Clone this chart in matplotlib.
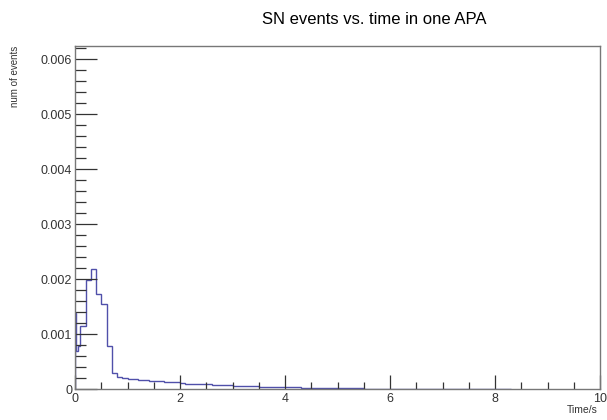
import numpy as np
import matplotlib.pyplot as plt
from matplotlib.ticker import MultipleLocator, FixedFormatter, FixedLocator

# bin edges (s) and contents of the histogram
head_edges = [0.0, 0.02, 0.05, 0.1, 0.2, 0.3, 0.4, 0.5, 0.6, 0.7]
head_vals = [0.00138, 0.00070, 0.00079, 0.00114, 0.00198, 0.00219, 0.00172, 0.00154, 0.00078]

tail_vals = [
    0.00029, 0.00022, 0.00020, 0.00019, 0.00018, 0.00017, 0.00016, 0.00015,   # 0.7 - 1.5
    0.00014, 0.00014, 0.00013, 0.00012, 0.00012, 0.00011, 0.00010, 0.00010,   # 1.5 - 2.3
    0.000095, 0.000090, 0.000085, 0.000080, 0.000075, 0.000070, 0.000065,     # 2.3 - 3.0
    0.000060, 0.000058, 0.000055, 0.000050, 0.000048, 0.000045, 0.000042,     # 3.0 - 3.7
    0.000040, 0.000037, 0.000034, 0.000031, 0.000030, 0.000028, 0.000026,     # 3.7 - 4.4
    0.000025, 0.000023, 0.000018, 0.000017, 0.000016, 0.000015, 0.000014,     # 4.4 - 5.1
    0.000013, 0.000012, 0.000011, 0.000010, 0.000009, 0.000008, 0.000007,     # 5.1 - 5.8
    0.000006, 0.000006, 0.000005, 0.000005, 0.000005, 0.000004, 0.000004,     # 5.8 - 6.5
    0.000004, 0.000004, 0.000003, 0.000003, 0.000003, 0.000003, 0.000003,     # 6.5 - 7.2
    0.000003, 0.000002, 0.000002, 0.000002, 0.000002, 0.000002, 0.000002,     # 7.2 - 7.9
    0.000002, 0.000002, 0.000002, 0.000002,                                   # 7.9 - 8.3
]
tail_edges = [round(0.7 + 0.1 * i, 2) for i in range(len(tail_vals) + 1)]

edges = head_edges + tail_edges[1:]
vals = head_vals + tail_vals

y_ticks = [0, 0.001, 0.002, 0.003, 0.004, 0.005, 0.006]
y_ticklabels = ['0', '0.001', '0.002', '0.003', '0.004', '0.005', '0.006']
x_ticks = [0, 2, 4, 6, 8, 10]

plt.rcParams['font.family'] = ['Liberation Sans', 'DejaVu Sans']

fig = plt.figure(figsize=(6.07, 4.2), dpi=100)
ax = fig.add_axes([75 / 607, 1 - 389 / 420, 525 / 607, 343 / 420])

ax.stairs(vals, edges, color='#5050aa', lw=1.0)

ax.set_xlim(0, 10)
ax.set_ylim(0, 0.00624)

ax.xaxis.set_major_locator(FixedLocator(x_ticks))
ax.xaxis.set_minor_locator(MultipleLocator(0.5))
ax.yaxis.set_major_locator(FixedLocator(y_ticks))
ax.yaxis.set_major_formatter(FixedFormatter(y_ticklabels))
ax.yaxis.set_minor_locator(MultipleLocator(0.0002))

ax.tick_params(which='both', direction='in', colors='#333333', labelsize=9, width=0.9)
ax.tick_params(axis='x', which='major', length=10, pad=3)
ax.tick_params(axis='x', which='minor', length=5)
ax.tick_params(axis='y', which='major', length=16, pad=2)
ax.tick_params(axis='y', which='minor', length=8)
ax.tick_params(top=False, right=False, which='both')

for s in ax.spines.values():
    s.set_color('#777777')
    s.set_linewidth(1.0)

fig.text(374 / 607, 1 - 20 / 420, 'SN events vs. time in one APA', ha='center', va='center', fontsize=12)
fig.text(15 / 607, 1 - 46 / 420, 'num of events', rotation=90, ha='center', va='top', fontsize=7, color='#333333')
fig.text(598 / 607, 1 - 410 / 420, 'Time/s', ha='right', va='center', fontsize=7.5, color='#333333')

fig.savefig('out.png', dpi=100)
